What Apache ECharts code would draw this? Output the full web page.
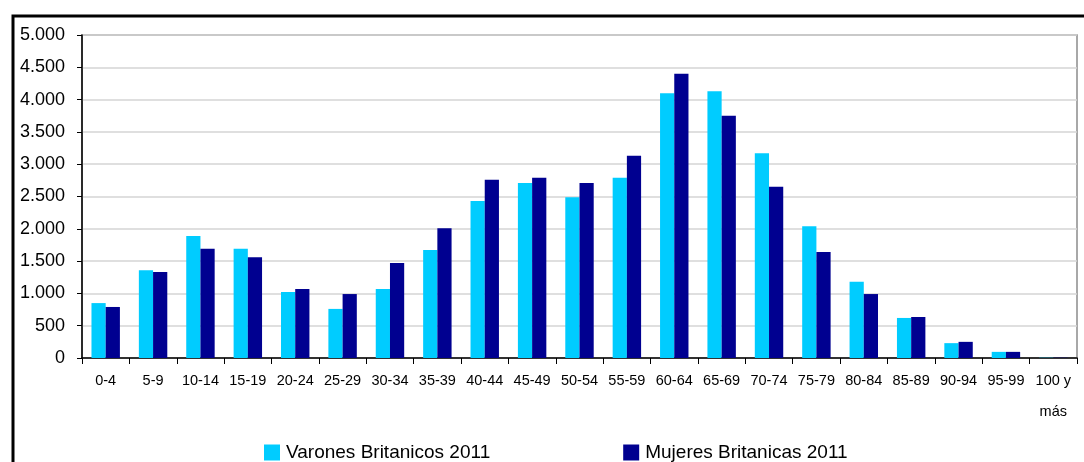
<!DOCTYPE html>
<html><head><meta charset="utf-8">
<script src="https://cdn.jsdelivr.net/npm/echarts@6/dist/echarts.min.js"></script>
<style>html,body{margin:0;padding:0;background:#fff}#c{width:1084px;height:462px}</style>
</head><body><div id="c"></div>
<script>
const categories = ['0-4','5-9','10-14','15-19','20-24','25-29','30-34','35-39','40-44','45-49','50-54','55-59','60-64','65-69','70-74','75-79','80-84','85-89','90-94','95-99','100 y\nmás'];
const varones = [850,1360,1890,1690,1020,760,1070,1670,2430,2710,2490,2790,4100,4130,3170,2040,1180,620,230,95,4];
const mujeres = [790,1330,1690,1560,1070,990,1470,2010,2760,2790,2710,3130,4400,3750,2650,1640,990,635,250,95,4];
const seriesNames = ['Varones Britanicos 2011','Mujeres Britanicas 2011'];
const yTicks = {min:0,max:5000,interval:500};

const chart = echarts.init(document.getElementById('c'), null, {renderer:'canvas'});
const font = '"Liberation Sans", Arial, sans-serif';
chart.setOption({
  animation:false,
  backgroundColor:'#fff',
  graphic:[{type:'rect',shape:{x:13,y:16,width:2000,height:2000},style:{fill:'none',stroke:'#000',lineWidth:3},silent:true,z:100}],
  grid:{left:82,right:7,top:35,bottom:104,show:true,borderColor:'#8c8c8c',borderWidth:1.5,containLabel:false},
  legend:{data:seriesNames,top:438,left:259,padding:5,itemWidth:16,itemHeight:16,itemGap:133,icon:'rect',
    textStyle:{fontFamily:font,fontSize:19,color:'#000',padding:[0,0,0,1]}},
  xAxis:{type:'category',data:categories,boundaryGap:true,
    axisLine:{lineStyle:{color:'#000',width:1.5}},
    axisTick:{show:true,alignWithLabel:false,length:6,lineStyle:{color:'#000'}},
    axisLabel:{interval:0,margin:7,fontFamily:font,fontSize:14.5,color:'#000',lineHeight:31,align:'center'},
    splitLine:{show:false}},
  yAxis:{type:'value',min:yTicks.min,max:yTicks.max,interval:yTicks.interval,
    axisLine:{show:true,lineStyle:{color:'#000',width:1.5}},
    axisTick:{show:true,length:5,lineStyle:{color:'#000'}},
    axisLabel:{margin:17,fontFamily:font,fontSize:18,color:'#000',
      formatter:v=>v.toString().replace(/\B(?=(\d{3})+(?!\d))/g,'.')},
    splitLine:{lineStyle:{color:'#d4d4d4',width:1.5}}},
  series:[
    {name:seriesNames[0],type:'bar',data:varones,barGap:'0%',barCategoryGap:'40%',itemStyle:{color:'#00CCFF'}},
    {name:seriesNames[1],type:'bar',data:mujeres,barGap:'0%',barCategoryGap:'40%',itemStyle:{color:'#000090'}}
  ]
});
</script></body></html>
